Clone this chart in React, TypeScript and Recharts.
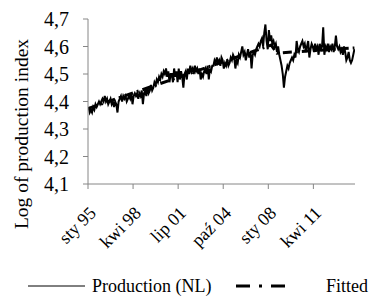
import { Line, LineChart, XAxis, YAxis } from "recharts"

const FONT = '"Liberation Serif", "Times New Roman", serif'
const AXIS_GREY = "#868686"

// monthly log production index, sty 95 .. mar 14
const production1995 = [4.38, 4.36, 4.37, 4.36, 4.38, 4.37, 4.39, 4.38, 4.39, 4.4, 4.39, 4.4]
const production1996 = [4.41, 4.4, 4.42, 4.4, 4.41, 4.39, 4.4, 4.41, 4.39, 4.4, 4.38, 4.4]
const production1997 = [4.39, 4.36, 4.4, 4.41, 4.42, 4.4, 4.42, 4.41, 4.42, 4.4, 4.41, 4.42]
const production1998 = [4.41, 4.43, 4.39, 4.42, 4.43, 4.42, 4.43, 4.41, 4.43, 4.42, 4.44, 4.39]
const production1999 = [4.43, 4.44, 4.42, 4.45, 4.43, 4.44, 4.46, 4.44, 4.45, 4.47, 4.46, 4.48]
const production2000 = [4.47, 4.49, 4.48, 4.5, 4.49, 4.51, 4.5, 4.52, 4.49, 4.51, 4.47, 4.5]
const production2001 = [4.5, 4.47, 4.52, 4.49, 4.51, 4.47, 4.52, 4.48, 4.51, 4.49, 4.45, 4.5]
const production2002 = [4.51, 4.48, 4.52, 4.5, 4.53, 4.51, 4.52, 4.5, 4.53, 4.51, 4.52, 4.5]
const production2003 = [4.52, 4.48, 4.5, 4.49, 4.51, 4.52, 4.5, 4.53, 4.48, 4.52, 4.51, 4.53]
const production2004 = [4.53, 4.55, 4.54, 4.56, 4.54, 4.55, 4.53, 4.56, 4.55, 4.52, 4.54, 4.53]
const production2005 = [4.55, 4.53, 4.54, 4.56, 4.55, 4.57, 4.56, 4.52, 4.55, 4.54, 4.57, 4.56]
const production2006 = [4.58, 4.6, 4.57, 4.58, 4.55, 4.57, 4.59, 4.56, 4.58, 4.52, 4.57, 4.58]
const production2007 = [4.57, 4.59, 4.6, 4.61, 4.6, 4.62, 4.63, 4.6, 4.65, 4.68, 4.62, 4.59]
const production2008 = [4.66, 4.62, 4.64, 4.61, 4.62, 4.6, 4.61, 4.58, 4.6, 4.57, 4.55, 4.53]
const production2009 = [4.5, 4.45, 4.49, 4.51, 4.53, 4.52, 4.54, 4.55, 4.56, 4.55, 4.57, 4.56]
const production2010 = [4.62, 4.59, 4.58, 4.6, 4.61, 4.62, 4.6, 4.61, 4.58, 4.6, 4.62, 4.56]
const production2011 = [4.59, 4.61, 4.6, 4.58, 4.61, 4.59, 4.6, 4.57, 4.61, 4.59, 4.6, 4.67]
const production2012 = [4.57, 4.6, 4.59, 4.61, 4.58, 4.6, 4.59, 4.61, 4.58, 4.6, 4.64, 4.6]
const production2013 = [4.59, 4.6, 4.58, 4.59, 4.57, 4.6, 4.58, 4.55, 4.56, 4.58, 4.55, 4.54]
const production2014 = [4.55, 4.57, 4.59]

const productionValues = [
  ...production1995, ...production1996, ...production1997, ...production1998,
  ...production1999, ...production2000, ...production2001, ...production2002,
  ...production2003, ...production2004, ...production2005, ...production2006,
  ...production2007, ...production2008, ...production2009, ...production2010,
  ...production2011, ...production2012, ...production2013, ...production2014,
]

// fitted trend: month index of each break and its value
const fittedMonths = [0, 158, 163, 230]
const fittedValues = [4.375, 4.605, 4.576, 4.595]

const tickMonths = [0, 39, 78, 117, 156, 195]
const tickLabels = ["sty 95", "kwi 98", "lip 01", "paź 04", "sty 08", "kwi 11"]
const yTicks = [4.1, 4.2, 4.3, 4.4, 4.5, 4.6, 4.7]

const productionData = productionValues.map((v, i) => ({ x: i + 0.5, production: v }))
const fittedData = fittedMonths.map((m, i) => ({ x: m + 0.5, fitted: fittedValues[i] }))

export default function App() {
  return (
    <div style={{ position: "absolute", left: 0, top: 0, width: 373, height: 304, background: "#fff" }}>
      <LineChart
        width={373}
        height={304}
        margin={{ top: 19, right: 18, left: 0, bottom: 60 }}
      >
        <XAxis
          dataKey="x"
          type="number"
          domain={[0, 231]}
          ticks={tickMonths}
          interval={0}
          allowDataOverflow
          height={60}
          stroke={AXIS_GREY}
          tickSize={5}
          tickMargin={16}
          angle={-45}
          textAnchor="end"
          tick={{ fill: "#000", fontSize: 18, fontFamily: FONT }}
          tickFormatter={(v: number) => tickLabels[tickMonths.indexOf(v)]}
        />
        <YAxis
          type="number"
          domain={[4.1, 4.7]}
          ticks={yTicks}
          interval={0}
          width={88}
          stroke={AXIS_GREY}
          tickSize={5}
          tickMargin={14}
          tick={{ fill: "#000", fontSize: 20, fontFamily: FONT }}
          tickFormatter={(v: number) => v.toFixed(1).replace(".", ",")}
        />
        <Line
          data={productionData}
          dataKey="production"
          stroke="#000"
          strokeWidth={2}
          dot={false}
          isAnimationActive={false}
        />
        <Line
          data={fittedData}
          dataKey="fitted"
          stroke="#000"
          strokeWidth={3}
          strokeDasharray="9 4 2 4"
          dot={false}
          isAnimationActive={false}
        />
      </LineChart>
      <svg
        width={373}
        height={304}
        style={{ position: "absolute", left: 0, top: 0, pointerEvents: "none" }}
      >
        <text
          x={21}
          y={134}
          transform="rotate(-90 21 134)"
          textAnchor="middle"
          dominantBaseline="central"
          fontFamily={FONT}
          fontSize={19.5}
        >
          Log of production index
        </text>
        <line x1={28} y1={286} x2={85} y2={286} stroke="#000" strokeWidth={1} />
        <text x={92} y={292} fontFamily={FONT} fontSize={18}>
          Production (NL)
        </text>
        <line x1={236} y1={286} x2={292} y2={286} stroke="#000" strokeWidth={3} strokeDasharray="14 9 3 9" />
        <text x={326} y={292} fontFamily={FONT} fontSize={18}>
          Fitted
        </text>
      </svg>
    </div>
  )
}
